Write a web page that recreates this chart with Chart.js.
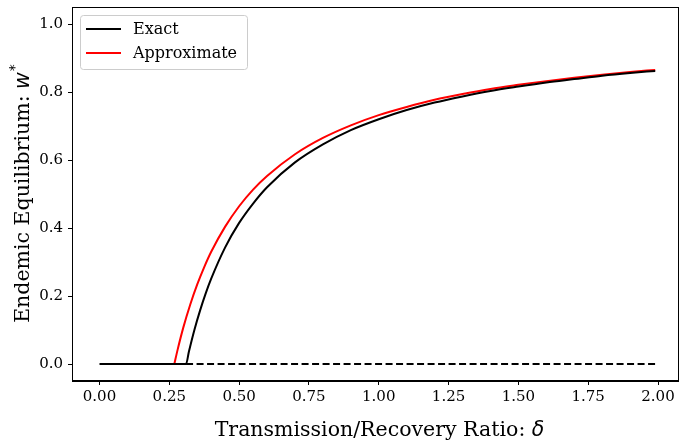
<!DOCTYPE html>
<html>
<head>
<meta charset="utf-8">
<script src="https://cdn.jsdelivr.net/npm/chart.js@4.4.1/dist/chart.umd.min.js"></script>
<style>
html,body{margin:0;padding:0;background:#fff;}
#wrap{width:679px;height:443px;position:relative;}
</style>
</head>
<body>
<div id="wrap"><canvas id="c" width="679" height="443"></canvas></div>
<script>
// ---- data ----
const exactDelta = [0.00, 0.31, 0.32, 0.34, 0.36, 0.38, 0.40, 0.45, 0.50, 0.55, 0.60, 0.70, 0.80, 0.90, 1.00, 1.10, 1.20, 1.30, 1.40, 1.50, 1.60, 1.70, 1.80, 1.90, 1.99];
const exactW     = [0.000, 0.000, 0.036, 0.101, 0.157, 0.207, 0.251, 0.343, 0.415, 0.472, 0.520, 0.593, 0.646, 0.688, 0.720, 0.747, 0.769, 0.787, 0.803, 0.816, 0.828, 0.838, 0.848, 0.856, 0.862];
const approxDelta = [0.268, 0.28, 0.30, 0.325, 0.35, 0.375, 0.40, 0.45, 0.50, 0.55, 0.60, 0.70, 0.80, 0.90, 1.00, 1.10, 1.20, 1.30, 1.40, 1.50, 1.60, 1.70, 1.80, 1.90, 1.99];
const approxW     = [0.000, 0.043, 0.107, 0.175, 0.234, 0.285, 0.330, 0.404, 0.464, 0.513, 0.553, 0.617, 0.665, 0.702, 0.732, 0.756, 0.777, 0.794, 0.809, 0.821, 0.832, 0.842, 0.851, 0.859, 0.865];
const unstableDelta = [0.31, 1.99];
const unstableW     = [0.0, 0.0];
const xTicks = [0.00, 0.25, 0.50, 0.75, 1.00, 1.25, 1.50, 1.75, 2.00];
const yTicks = [0.0, 0.2, 0.4, 0.6, 0.8, 1.0];
const seriesLabels = ["Exact", "Approximate"];
const xTitle = "Transmission/Recovery Ratio: ";
const xSymbol = "\u03b4";
const yTitle = "Endemic Equilibrium: ";
const ySymbol = "w";
const ySup = "*";

const pts = (xs, ys) => xs.map((x, i) => ({x: x, y: ys[i]}));
const SERIF = "'DejaVu Serif', serif";
const SANS = "'DejaVu Sans', sans-serif";
const TF = 20.5;

const framePlugin = {
  id: 'frame',
  afterDatasetsDraw(chart) {
    const {ctx, chartArea: a} = chart;
    ctx.save();
    ctx.strokeStyle = '#000';
    ctx.lineWidth = 1;
    ctx.strokeRect(a.left + 0.5, a.top + 0.5, a.right - a.left - 1, a.bottom - a.top - 1);
    ctx.restore();
  },
  afterDraw(chart) {
    const {ctx, chartArea: a} = chart;
    ctx.save();
    // legend
    const lx = 80, ly = 15, lw = 167, lh = 54;
    ctx.fillStyle = 'rgba(255,255,255,0.8)';
    ctx.strokeStyle = '#cccccc';
    ctx.lineWidth = 1;
    ctx.beginPath();
    ctx.roundRect(lx + 0.5, ly + 0.5, lw, lh, 3);
    ctx.fill();
    ctx.stroke();
    const colors = ['#000000', '#ff0000'];
    const rows = [29, 53];
    ctx.font = "16px " + SERIF;
    ctx.textBaseline = 'middle';
    for (let i = 0; i < 2; i++) {
      ctx.strokeStyle = colors[i];
      ctx.lineWidth = 2;
      ctx.beginPath();
      ctx.moveTo(86, rows[i]);
      ctx.lineTo(121, rows[i]);
      ctx.stroke();
      ctx.fillStyle = '#000';
      ctx.fillText(seriesLabels[i], 133, rows[i] + 1);
    }
    // x title
    ctx.fillStyle = '#000';
    ctx.textBaseline = 'alphabetic';
    ctx.font = TF + "px " + SERIF;
    const w1 = ctx.measureText(xTitle).width;
    ctx.font = "italic " + TF + "px " + SANS;
    const w2 = ctx.measureText(xSymbol).width;
    const cx = (a.left + a.right) / 2;
    let sx = cx - (w1 + w2) / 2 + 4;
    ctx.font = TF + "px " + SERIF;
    ctx.fillText(xTitle, sx, 436);
    ctx.font = "italic " + TF + "px " + SANS;
    ctx.fillText(xSymbol, sx + w1, 436);
    // y title (rotated)
    ctx.translate(29, (a.top + a.bottom) / 2);
    ctx.rotate(-Math.PI / 2);
    ctx.font = TF + "px " + SERIF;
    const v1 = ctx.measureText(yTitle).width;
    ctx.font = "italic " + TF + "px " + SANS;
    const v2 = ctx.measureText(ySymbol).width;
    ctx.font = "14px " + SANS;
    const v3 = ctx.measureText(ySup).width;
    let sy = -(v1 + v2 + v3) / 2;
    ctx.font = TF + "px " + SERIF;
    ctx.fillText(yTitle, sy, 0);
    ctx.font = "italic " + TF + "px " + SANS;
    ctx.fillText(ySymbol, sy + v1, 0);
    ctx.font = "14px " + SANS;
    ctx.fillText(ySup, sy + v1 + v2 + 1, -10);
    ctx.restore();
  }
};

const noPad = s => { s.paddingTop = 0; s.paddingRight = 0; s.paddingLeft = 0; s.paddingBottom = 0; };

new Chart(document.getElementById('c'), {
  type: 'scatter',
  data: {
    datasets: [
      {label: seriesLabels[0], data: pts(exactDelta, exactW), showLine: true, borderColor: '#000000', borderWidth: 2, pointRadius: 0, cubicInterpolationMode: 'monotone', fill: false},
      {label: 'unstable', data: pts(unstableDelta, unstableW), showLine: true, borderColor: '#000000', borderWidth: 2, borderDash: [7, 3.5], pointRadius: 0, fill: false},
      {label: seriesLabels[1], data: pts(approxDelta, approxW), showLine: true, borderColor: '#ff0000', borderWidth: 2, pointRadius: 0, cubicInterpolationMode: 'monotone', fill: false}
    ]
  },
  options: {
    responsive: false,
    animation: false,
    devicePixelRatio: 1,
    layout: {padding: {left: 0, top: 7, right: 0, bottom: 0}, autoPadding: false},
    plugins: {legend: {display: false}, tooltip: {enabled: false}, title: {display: false}},
    scales: {
      x: {
        type: 'linear', min: -0.0985, max: 2.0752,
        afterBuildTicks: s => { s.ticks = xTicks.map(v => ({value: v})); },
        afterFit: s => { s.height = 62; noPad(s); },
        grid: {display: true, drawOnChartArea: false, drawTicks: true, tickLength: 4, tickColor: '#000', color: '#000'},
        border: {display: true, color: '#000', width: 1},
        ticks: {color: '#000', font: {family: SERIF, size: 15}, padding: 3, maxRotation: 0, autoSkip: false,
          callback: v => v.toFixed(2)}
      },
      y: {
        type: 'linear', min: -0.05, max: 1.05,
        afterBuildTicks: s => { s.ticks = yTicks.map(v => ({value: v})); },
        afterFit: s => { s.width = 72; noPad(s); },
        grid: {display: true, drawOnChartArea: false, drawTicks: true, tickLength: 4, tickColor: '#000', color: '#000'},
        border: {display: true, color: '#000', width: 1},
        ticks: {color: '#000', font: {family: SERIF, size: 15}, padding: 5,
          callback: v => v.toFixed(1)}
      }
    }
  },
  plugins: [framePlugin]
});
</script>
</body>
</html>
